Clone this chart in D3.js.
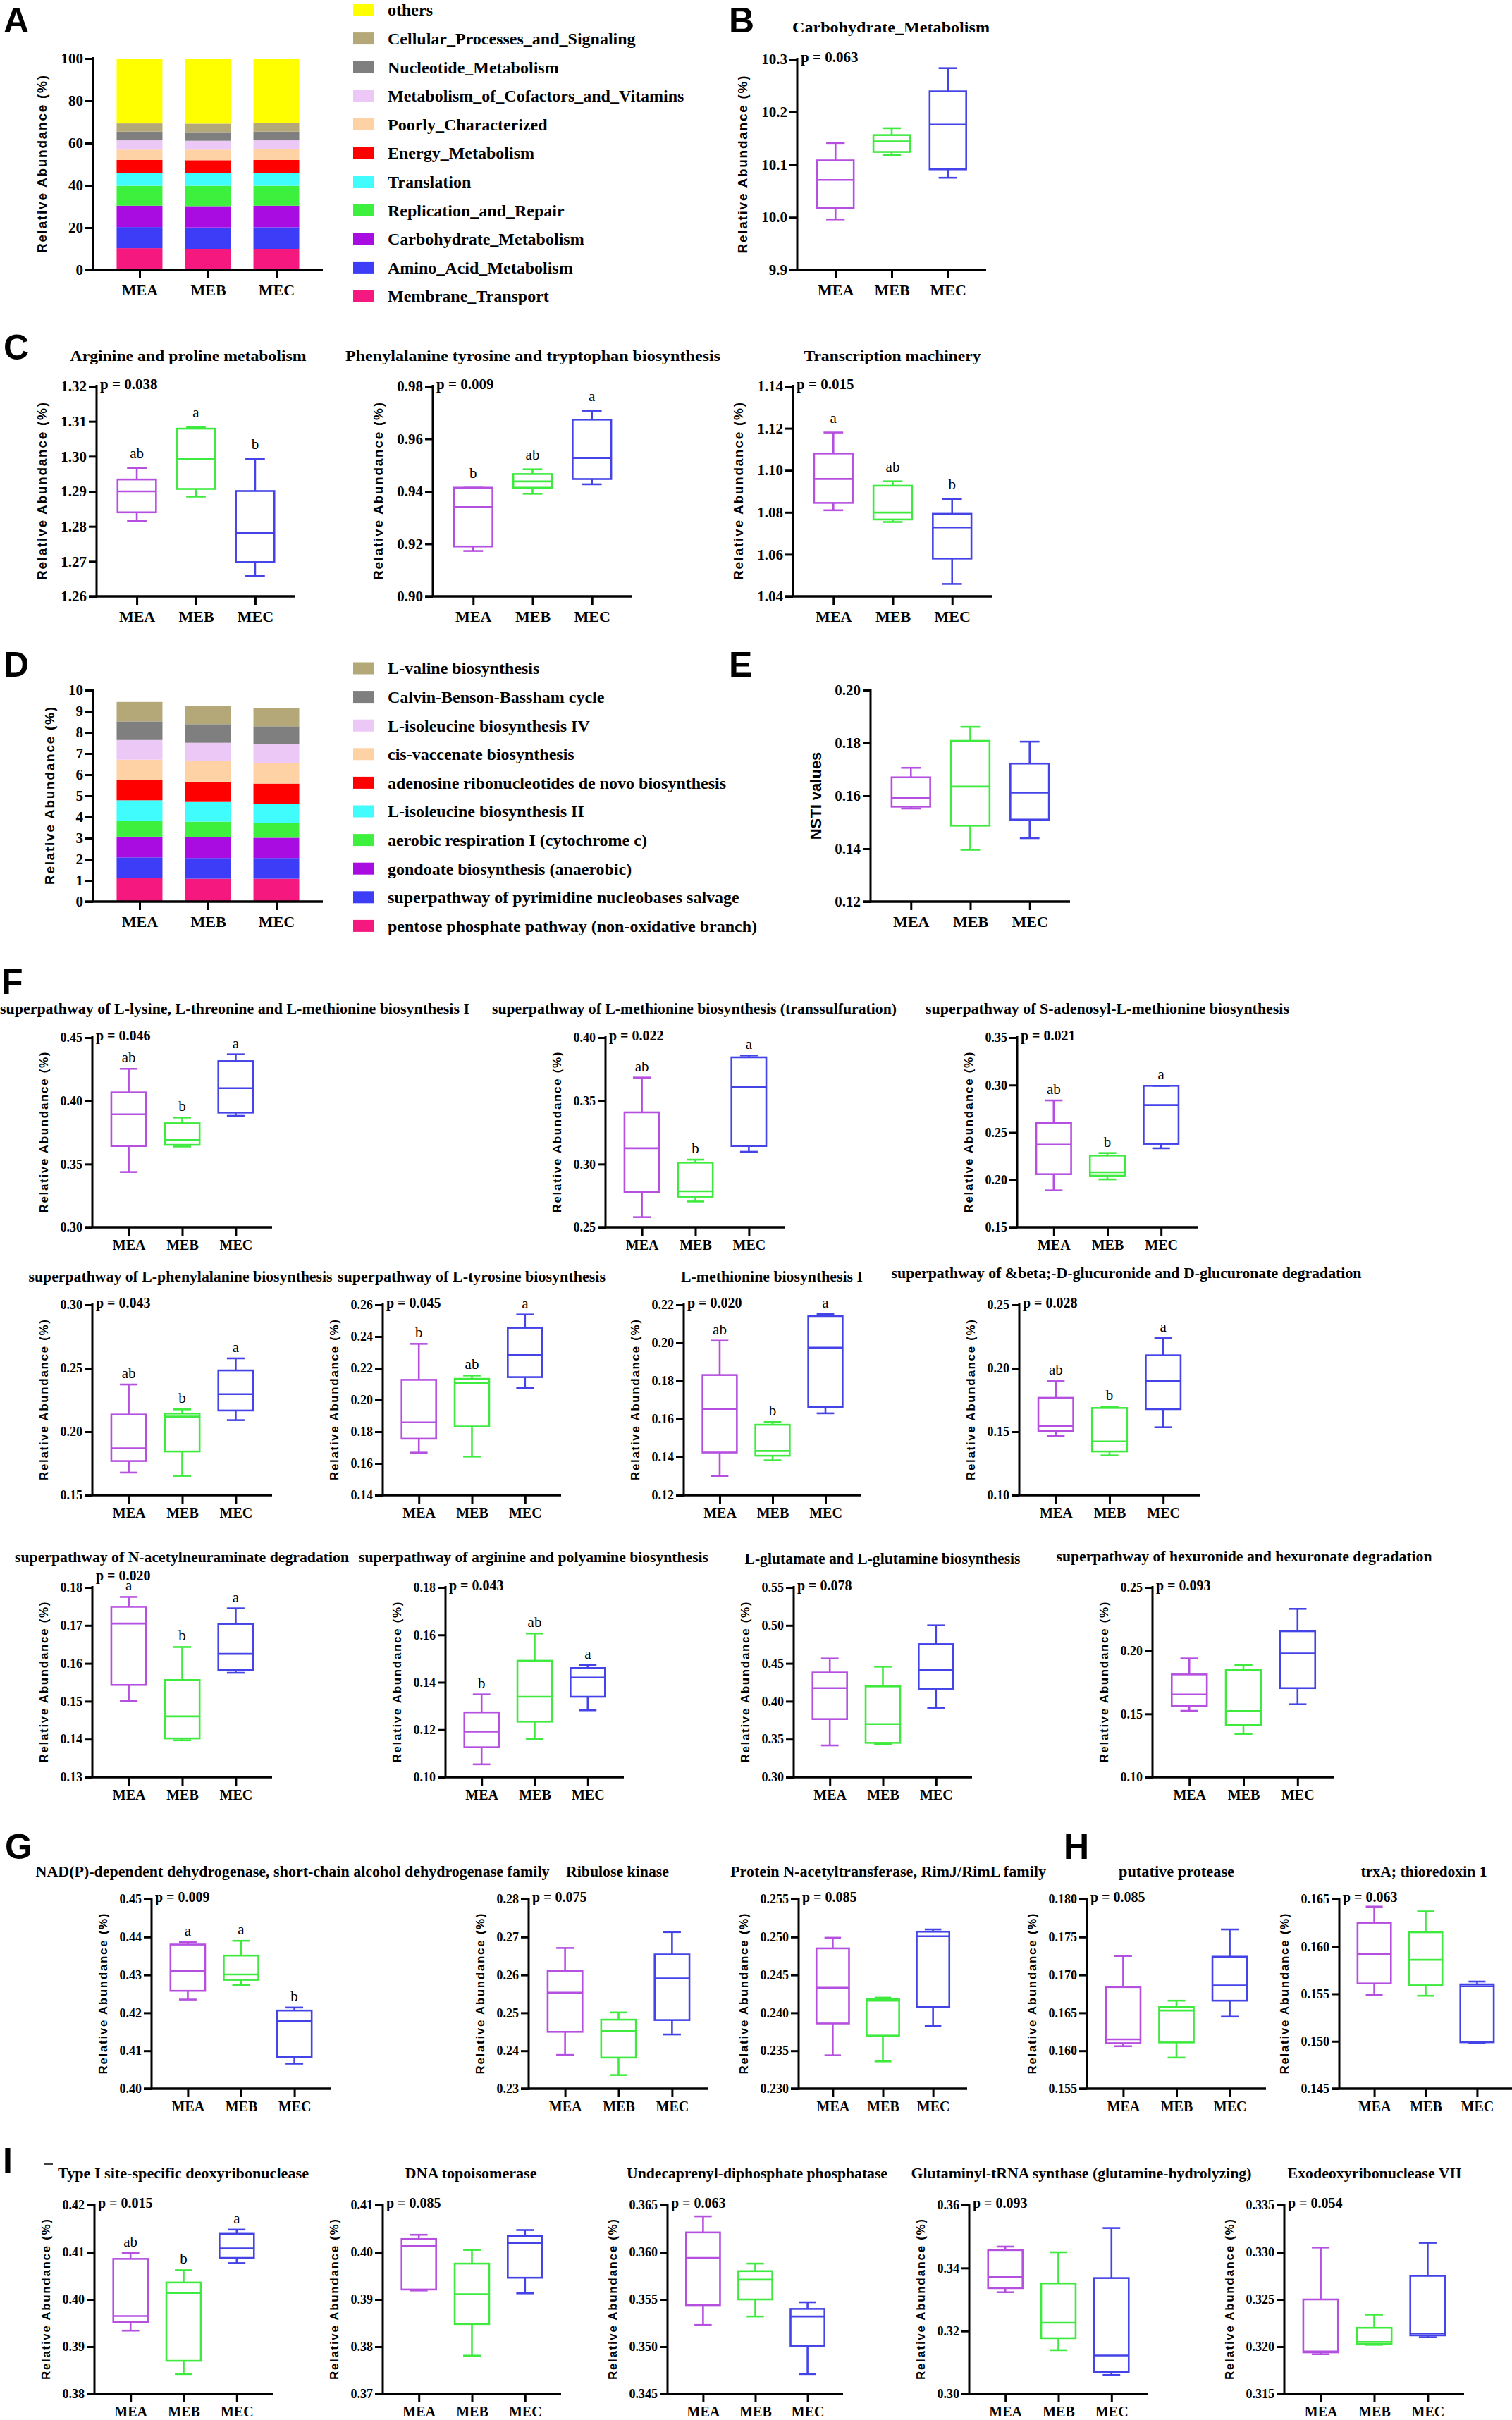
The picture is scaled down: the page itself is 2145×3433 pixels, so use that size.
<!DOCTYPE html>
<html>
<head>
<meta charset="utf-8">
<script src="https://cdn.jsdelivr.net/npm/d3@7"></script>
<style>
  body { margin: 0; background: #fff; }
  svg text { font-family: "Liberation Serif", "Times New Roman", serif; }
</style>
</head>
<body>
<svg id="fig" width="2145" height="3433"></svg>
<script>
// ---------------- data ----------------
var groups = ["MEA", "MEB", "MEC"];
var groupColors = ["#B54FE0", "#3FEA3F", "#4343E8"];

// A: KEGG level 2, listed bottom -> top of the stack
var keggNames = ["Membrane_Transport", "Amino_Acid_Metabolism", "Carbohydrate_Metabolism",
                 "Replication_and_Repair", "Translation", "Energy_Metabolism", "Poorly_Characterized",
                 "Metabolism_of_Cofactors_and_Vitamins", "Nucleotide_Metabolism",
                 "Cellular_Processes_and_Signaling", "others"];
var keggMEA = [10.3, 10.0, 10.1, 9.4, 6.1, 6.1, 4.9, 4.4, 4.1, 3.9, 30.7];
var keggMEB = [10.0, 10.1, 10.1, 9.6, 6.1, 6.0, 5.0, 4.2, 4.1, 4.0, 30.8];
var keggMEC = [10.0, 10.2, 10.2, 9.4, 6.1, 6.1, 5.0, 4.3, 4.1, 4.0, 30.6];
var stackColors = ["#F5187E", "#3D3DF8", "#A80CE0", "#3DF03D", "#40FCFC", "#FF0000",
                   "#FFD2A6", "#EBC8F5", "#7F7F7F", "#B4A878", "#FFFF00"];

// D: MetaCyc pathways, bottom -> top
var pathNames = ["pentose phosphate pathway (non-oxidative branch)",
                 "superpathway of pyrimidine nucleobases salvage",
                 "gondoate biosynthesis (anaerobic)", "aerobic respiration I (cytochrome c)",
                 "L-isoleucine biosynthesis II", "adenosine ribonucleotides de novo biosynthesis",
                 "cis-vaccenate biosynthesis", "L-isoleucine biosynthesis IV",
                 "Calvin-Benson-Bassham cycle", "L-valine biosynthesis"];
var pathMEA = [1.10, 0.99, 0.98, 0.75, 0.97, 0.96, 0.96, 0.93, 0.88, 0.92];
var pathMEB = [1.08, 0.98, 0.99, 0.73, 0.93, 0.96, 0.97, 0.87, 0.88, 0.85];
var pathMEC = [1.08, 0.98, 0.96, 0.69, 0.92, 0.95, 0.97, 0.89, 0.85, 0.87];

// box plots (B, C1-3, E, F1-11, G1-3, H1-2, I1-5)
var boxTitles = ["Carbohydrate_Metabolism", "Arginine and proline metabolism",
  "Phenylalanine tyrosine and tryptophan biosynthesis", "Transcription machinery", "",
  "superpathway of L-lysine, L-threonine and L-methionine biosynthesis I",
  "superpathway of L-methionine biosynthesis (transsulfuration)",
  "superpathway of S-adenosyl-L-methionine biosynthesis",
  "superpathway of L-phenylalanine biosynthesis", "superpathway of L-tyrosine biosynthesis",
  "L-methionine biosynthesis I",
  "superpathway of &beta;-D-glucuronide and D-glucuronate degradation",
  "superpathway of N-acetylneuraminate degradation",
  "superpathway of arginine and polyamine biosynthesis",
  "L-glutamate and L-glutamine biosynthesis",
  "superpathway of hexuronide and hexuronate degradation",
  "NAD(P)-dependent dehydrogenase, short-chain alcohol dehydrogenase family",
  "Ribulose kinase", "Protein N-acetyltransferase, RimJ/RimL family", "putative protease",
  "trxA; thioredoxin 1", "Type I site-specific deoxyribonuclease", "DNA topoisomerase",
  "Undecaprenyl-diphosphate phosphatase", "Glutaminyl-tRNA synthase (glutamine-hydrolyzing)",
  "Exodeoxyribonuclease VII"];

var boxPValues = ["p = 0.063", "p = 0.038", "p = 0.009", "p = 0.015", "",
  "p = 0.046", "p = 0.022", "p = 0.021", "p = 0.043", "p = 0.045", "p = 0.020", "p = 0.028",
  "p = 0.020", "p = 0.043", "p = 0.078", "p = 0.093",
  "p = 0.009", "p = 0.075", "p = 0.085", "p = 0.085", "p = 0.063",
  "p = 0.015", "p = 0.085", "p = 0.063", "p = 0.093", "p = 0.054"];

var boxLetters = [null, ["ab", "a", "b"], ["b", "ab", "a"], ["a", "ab", "b"], null,
  ["ab", "b", "a"], ["ab", "b", "a"], ["ab", "b", "a"], ["ab", "b", "a"], ["b", "ab", "a"],
  ["ab", "b", "a"], ["ab", "b", "a"], ["a", "b", "a"], ["b", "ab", "a"], null, null,
  ["a", "a", "b"], null, null, null, null, ["ab", "b", "a"], null, null, null, null];

// y range [low, high] and tick step
var boxYRange = [[9.9, 10.3], [1.26, 1.32], [0.90, 0.98], [1.04, 1.14], [0.12, 0.20],
  [0.30, 0.45], [0.25, 0.40], [0.15, 0.35], [0.15, 0.30], [0.14, 0.26], [0.12, 0.22], [0.10, 0.25],
  [0.13, 0.18], [0.10, 0.18], [0.30, 0.55], [0.10, 0.25],
  [0.40, 0.45], [0.23, 0.28], [0.230, 0.255], [0.155, 0.180], [0.145, 0.165],
  [0.38, 0.42], [0.37, 0.41], [0.345, 0.365], [0.30, 0.36], [0.315, 0.335]];
var boxYStep = [0.1, 0.01, 0.02, 0.02, 0.02,
  0.05, 0.05, 0.05, 0.05, 0.02, 0.02, 0.05, 0.01, 0.02, 0.05, 0.05,
  0.01, 0.01, 0.005, 0.005, 0.005, 0.01, 0.01, 0.005, 0.02, 0.005];

// five-number summaries [min, q1, median, q3, max]
var statsMEA = [[9.996, 10.018, 10.071, 10.108, 10.141], [1.2815, 1.2840, 1.2900, 1.2934, 1.2966],
  [0.9173, 0.9190, 0.9340, 0.9414, 0.9414], [1.0810, 1.0845, 1.0959, 1.1080, 1.1180],
  [0.1552, 0.1559, 0.1593, 0.1670, 0.1706], [0.3437, 0.3643, 0.3894, 0.4067, 0.4253],
  [0.2580, 0.2779, 0.3125, 0.3409, 0.3684], [0.1889, 0.2060, 0.2372, 0.2600, 0.2838],
  [0.1678, 0.1769, 0.1869, 0.2135, 0.2372], [0.1668, 0.1756, 0.1859, 0.2127, 0.2354],
  [0.1301, 0.1424, 0.1653, 0.1831, 0.2012], [0.1467, 0.1504, 0.1546, 0.1767, 0.1898],
  [0.1501, 0.1543, 0.1705, 0.1749, 0.1775], [0.1054, 0.1126, 0.1192, 0.1273, 0.1349],
  [0.3418, 0.3765, 0.4174, 0.4379, 0.4564], [0.1524, 0.1565, 0.1654, 0.1812, 0.1939],
  [0.4235, 0.4258, 0.4310, 0.4380, 0.4386], [0.2389, 0.2450, 0.2553, 0.2611, 0.2671],
  [0.2344, 0.2386, 0.2433, 0.2485, 0.2499], [0.1606, 0.1610, 0.1615, 0.1684, 0.1725],
  [0.1549, 0.1561, 0.1592, 0.1625, 0.1642], [0.3934, 0.3952, 0.3965, 0.4086, 0.4099],
  [0.3919, 0.3921, 0.4013, 0.4028, 0.4037], [0.3523, 0.3544, 0.3594, 0.3621, 0.3638],
  [0.3323, 0.3336, 0.3371, 0.3457, 0.3468], [0.3192, 0.3194, 0.3195, 0.3250, 0.3305]];
var statsMEB = [[10.118, 10.124, 10.144, 10.156, 10.169], [1.2885, 1.2907, 1.2992, 1.3079, 1.3083],
  [0.9391, 0.9414, 0.9438, 0.9466, 0.9484], [1.0754, 1.0766, 1.0799, 1.0927, 1.0948],
  [0.1396, 0.1487, 0.1635, 0.1808, 0.1861], [0.3639, 0.3652, 0.3690, 0.3823, 0.3868],
  [0.2704, 0.2742, 0.2784, 0.3011, 0.3035], [0.2005, 0.2043, 0.2080, 0.2256, 0.2283],
  [0.1652, 0.1844, 0.2119, 0.2143, 0.2176], [0.1643, 0.1833, 0.2107, 0.2133, 0.2154],
  [0.1383, 0.1407, 0.1432, 0.1570, 0.1584], [0.1313, 0.1344, 0.1424, 0.1687, 0.1698],
  [0.1397, 0.1402, 0.1460, 0.1556, 0.1643], [0.1161, 0.1234, 0.1339, 0.1491, 0.1606],
  [0.3434, 0.3452, 0.3700, 0.4196, 0.4456], [0.1342, 0.1414, 0.1522, 0.1846, 0.1885],
  [0.4273, 0.4287, 0.4301, 0.4351, 0.4390], [0.2336, 0.2382, 0.2452, 0.2482, 0.2501],
  [0.2336, 0.2370, 0.2416, 0.2418, 0.2420], [0.1591, 0.1611, 0.1653, 0.1658, 0.1666],
  [0.1548, 0.1559, 0.1586, 0.1615, 0.1637], [0.3842, 0.3870, 0.4014, 0.4036, 0.4062],
  [0.3781, 0.3848, 0.3911, 0.3976, 0.4005], [0.3532, 0.3550, 0.3571, 0.3580, 0.3588],
  [0.3139, 0.3177, 0.3226, 0.3351, 0.3450], [0.3202, 0.3203, 0.3205, 0.3220, 0.3234]];
var statsMEC = [[10.075, 10.091, 10.176, 10.239, 10.283], [1.2658, 1.2698, 1.2781, 1.2901, 1.2992],
  [0.9427, 0.9447, 0.9527, 0.9673, 0.9707], [1.0459, 1.0580, 1.0728, 1.0793, 1.0863],
  [0.1440, 0.1510, 0.1612, 0.1722, 0.1805], [0.3881, 0.3907, 0.4100, 0.4314, 0.4368],
  [0.3097, 0.3143, 0.3611, 0.3844, 0.3859], [0.2333, 0.2380, 0.2789, 0.2992, 0.2992],
  [0.2091, 0.2167, 0.2296, 0.2483, 0.2578], [0.2077, 0.2144, 0.2283, 0.2455, 0.2539],
  [0.1630, 0.1662, 0.1975, 0.2141, 0.2151], [0.1535, 0.1678, 0.1902, 0.2102, 0.2237],
  [0.1575, 0.1583, 0.1625, 0.1704, 0.1745], [0.1282, 0.1339, 0.1420, 0.1460, 0.1472],
  [0.3914, 0.4165, 0.4416, 0.4753, 0.5001], [0.1576, 0.1704, 0.1978, 0.2154, 0.2331],
  [0.4066, 0.4084, 0.4179, 0.4206, 0.4214], [0.2443, 0.2481, 0.2591, 0.2654, 0.2713],
  [0.2383, 0.2408, 0.2501, 0.2507, 0.2510], [0.1645, 0.1666, 0.1686, 0.1724, 0.1760],
  [0.1498, 0.1499, 0.1558, 0.1560, 0.1563], [0.4077, 0.4088, 0.4108, 0.4139, 0.4148],
  [0.3913, 0.3946, 0.4019, 0.4034, 0.4047], [0.3471, 0.3501, 0.3532, 0.3540, 0.3547],
  [0.3060, 0.3069, 0.3122, 0.3368, 0.3527], [0.3210, 0.3212, 0.3214, 0.3275, 0.3310]];

// ---------------- layout ----------------
// [axisX, axisEnd, top, bottom, titleCenter, titleBaseline, titleWidth, big?, pShift]
var frames = [
  [1131, 1399, 84, 383, 1264, 46, 280, 1, 4],
  [137, 419, 548, 846, 267, 512, 335, 1, 4],
  [614, 897, 548, 846, 756, 512, 532, 1, 4],
  [1125, 1408, 548, 846, 1266, 512, 251, 1, 4],
  [1235, 1518, 979, 1279, 0, 0, 0, 1, 4],
  [131, 386, 1472, 1741, 333, 1438, 666, 0, 4],
  [859, 1114, 1472, 1741, 985, 1438, 574, 0, 4],
  [1443, 1699, 1472, 1741, 1571, 1438, 516, 0, 4],
  [131, 386, 1851, 2121, 256, 1818, 431, 0, 4],
  [543, 796, 1851, 2121, 669, 1818, 380, 0, 4],
  [970, 1222, 1851, 2121, 1095, 1818, 258, 0, 4],
  [1446, 1702, 1851, 2121, 1598, 1813, 667, 0, 4],
  [131, 386, 2252, 2521, 258, 2216, 474, 0, -10],
  [632, 885, 2252, 2521, 757, 2216, 496, 0, 4],
  [1126, 1379, 2252, 2521, 1252, 2218, 391, 0, 4],
  [1635, 1893, 2252, 2521, 1765, 2215, 533, 0, 4],
  [215, 469, 2694, 2963, 415, 2662, 729, 0, 4],
  [750, 1005, 2694, 2963, 876, 2662, 146, 0, 4],
  [1133, 1372, 2694, 2963, 1260, 2662, 448, 0, 4],
  [1542, 1796, 2694, 2963, 1669, 2662, 164, 0, 4],
  [1900, 2145, 2694, 2963, 2020, 2662, 179, 0, 4],
  [134, 387, 3128, 3396, 260, 3090, 356, 0, 4],
  [543, 796, 3128, 3396, 668, 3090, 187, 0, 4],
  [947, 1196, 3128, 3396, 1074, 3090, 370, 0, 4],
  [1375, 1628, 3128, 3396, 1534, 3090, 483, 0, 4],
  [1822, 2077, 3128, 3396, 1950, 3090, 247, 0, 4]
];
var panelLabels = [["A", 5, 46], ["B", 1034, 46], ["C", 5, 510], ["D", 5, 960], ["E", 1034, 960],
                   ["F", 2, 1410], ["G", 7, 2637], ["H", 1509, 2637], ["I", 4, 3082]];

var svg = d3.select("#fig");
var BIG = {tick: 21, xlab: 22, p: 21, title: 22, ytitle: 19, ylen: 252, gap: 27, xlabY: 36},
    SMALL = {tick: 18, xlab: 20, p: 20, title: 20, ytitle: 17, ylen: 228, gap: 23, xlabY: 32};

function styleAxis(g) {
  g.selectAll("line").attr("stroke", "#000").attr("stroke-width", 3);
  g.select(".domain").remove();
}

function drawAxes(x, y, x0, x1, top, bot, ticks, fmt, sz) {
  var ya = svg.append("g").attr("transform", "translate(" + x0 + ",0)")
    .call(d3.axisLeft(y).tickValues(ticks).tickFormat(fmt).tickSize(11).tickPadding(3).tickSizeOuter(0));
  styleAxis(ya);
  ya.selectAll("text").style("font-size", sz.tick + "px").style("font-weight", "bold").attr("fill", "#000");
  ya.append("line").attr("x1", 0).attr("x2", 0).attr("y1", top - 2).attr("y2", bot)
    .attr("stroke", "#000").attr("stroke-width", 3);

  var xa = svg.append("g").attr("transform", "translate(0," + bot + ")")
    .call(d3.axisBottom(x).tickSize(12).tickSizeOuter(0));
  styleAxis(xa);
  xa.selectAll("text").attr("y", sz.xlabY).attr("dy", null)
    .style("font-size", sz.xlab + "px").style("font-weight", "bold").attr("fill", "#000");
  xa.append("line").attr("x1", x0 - 11).attr("x2", x1).attr("y1", 0).attr("y2", 0)
    .attr("stroke", "#000").attr("stroke-width", 3.5);

  // left edge of tick labels, used to place the rotated title
  var minX = 0;
  ya.selectAll("text").each(function () { minX = Math.min(minX, this.getBBox().x); });
  return x0 + minX;
}

function yTitle(text, cx, cy, size, len) {
  var t = svg.append("text")
    .attr("transform", "translate(" + cx + "," + cy + ") rotate(-90)")
    .attr("text-anchor", "middle").attr("dy", "0.35em")
    .style("font-family", "'Liberation Sans', Arial, sans-serif").style("font-weight", "bold")
    .style("font-size", size + "px").text(text);
  if (len) t.attr("textLength", len).attr("lengthAdjust", "spacing");
}

function tickList(lo, hi, step) {
  var n = Math.round((hi - lo) / step);
  return d3.range(n + 1).map(function (i) { return +(lo + i * step).toFixed(4); });
}

// ---------------- stacked bars (A, D) ----------------
function stackedPanel(names, byGroup, yMax, yStep, fmt, x0, x1, top, bot, legendTop) {
  var rows = groups.map(function (g, i) {
    var r = {group: g};
    names.forEach(function (n, k) { r[n] = byGroup[i][k]; });
    return r;
  });
  var series = d3.stack().keys(names)(rows);
  var x = d3.scalePoint().domain(groups).range([x0, x1]).padding(0.68);
  var y = d3.scaleLinear().domain([0, yMax]).range([bot, top]);
  var bw = x.step() * 0.67;

  svg.append("g").selectAll("g").data(series).join("g")
    .attr("fill", function (d, k) { return stackColors[k]; })
    .selectAll("rect").data(function (d) { return d; }).join("rect")
    .attr("x", function (d) { return x(d.data.group) - bw / 2; })
    .attr("width", bw)
    .attr("y", function (d) { return y(d[1]); })
    .attr("height", function (d) { return y(d[0]) - y(d[1]); });

  var left = drawAxes(x, y, x0, x1, top, bot, tickList(0, yMax, yStep), fmt, BIG);
  yTitle("Relative Abundance (%)", left - BIG.gap, (top + bot) / 2, BIG.ytitle, BIG.ylen);

  var lg = svg.append("g").selectAll("g").data(names.slice().reverse()).join("g")
    .attr("transform", function (d, r) { return "translate(501," + (legendTop + r * 40.6) + ")"; });
  lg.append("rect").attr("x", 0).attr("y", -8.5).attr("width", 30).attr("height", 17)
    .attr("fill", function (d) { return stackColors[names.indexOf(d)]; });
  lg.append("text").attr("x", 49).attr("dy", "0.35em")
    .style("font-size", "24px").style("font-weight", "bold").text(function (d) { return d; });
}

stackedPanel(keggNames, [keggMEA, keggMEB, keggMEC], 100, 20, d3.format("d"), 132, 458, 83, 383, 14);
stackedPanel(pathNames, [pathMEA, pathMEB, pathMEC], 10, 1, d3.format("d"), 132, 458, 979, 1279, 948);

// ---------------- box plots ----------------
boxTitles.forEach(function (title, k) {
  var f = frames[k], x0 = f[0], x1 = f[1], top = f[2], bot = f[3];
  var sz = f[7] ? BIG : SMALL;
  var lo = boxYRange[k][0], hi = boxYRange[k][1], step = boxYStep[k];
  var x = d3.scalePoint().domain(groups).range([x0, x1]).padding(0.68);
  var y = d3.scaleLinear().domain([lo, hi]).range([bot, top]);
  var fmt = d3.format(step < 0.01 ? ".3f" : (step < 0.1 ? ".2f" : ".1f"));

  var left = drawAxes(x, y, x0, x1, top, bot, tickList(lo, hi, step), fmt, sz);
  yTitle(k === 4 ? "NSTI values" : "Relative Abundance (%)", left - sz.gap, (top + bot) / 2,
         k === 4 ? 22 : sz.ytitle, k === 4 ? 0 : sz.ylen);

  if (title) {
    svg.append("text").attr("x", f[4]).attr("y", f[5]).attr("text-anchor", "middle")
      .attr("textLength", f[6]).attr("lengthAdjust", "spacingAndGlyphs")
      .style("font-size", sz.title + "px").style("font-weight", "bold").text(title);
  }
  if (boxPValues[k]) {
    svg.append("text").attr("x", x0 + 5).attr("y", top + f[8])
      .style("font-size", sz.p + "px").style("font-weight", "bold").text(boxPValues[k]);
  }

  var boxW = x.step() * 0.65, capW = x.step() * 0.33;
  var sets = [statsMEA[k], statsMEB[k], statsMEC[k]];
  var bg = svg.append("g").selectAll("g").data(groups).join("g")
    .attr("stroke", function (d, i) { return groupColors[i]; })
    .attr("stroke-width", 2.6).attr("fill", "none");
  bg.each(function (g, i) {
    var s = sets[i], cx = x(g), node = d3.select(this);
    node.append("line").attr("x1", cx).attr("x2", cx).attr("y1", y(s[4])).attr("y2", y(s[3]));
    node.append("line").attr("x1", cx).attr("x2", cx).attr("y1", y(s[1])).attr("y2", y(s[0]));
    node.append("line").attr("x1", cx - capW / 2).attr("x2", cx + capW / 2).attr("y1", y(s[4])).attr("y2", y(s[4]));
    node.append("line").attr("x1", cx - capW / 2).attr("x2", cx + capW / 2).attr("y1", y(s[0])).attr("y2", y(s[0]));
    node.append("rect").attr("x", cx - boxW / 2).attr("width", boxW)
      .attr("y", y(s[3])).attr("height", y(s[1]) - y(s[3]));
    node.append("line").attr("x1", cx - boxW / 2).attr("x2", cx + boxW / 2).attr("y1", y(s[2])).attr("y2", y(s[2]));
  });

  if (boxLetters[k]) {
    var ld = f[7] ? 14 : 9;
    svg.append("g").selectAll("text").data(groups).join("text")
      .attr("x", function (g) { return x(g); })
      .attr("y", function (g, i) { return y(sets[i][4]) - ld; })
      .attr("text-anchor", "middle").style("font-size", "21px")
      .text(function (g, i) { return boxLetters[k][i]; });
  }
});

// panel letters
svg.append("g").selectAll("text").data(panelLabels).join("text")
  .attr("x", function (d) { return d[1]; }).attr("y", function (d) { return d[2]; })
  .style("font-family", "'Liberation Sans', Arial, sans-serif").style("font-weight", "bold")
  .style("font-size", "50px").text(function (d) { return d[0]; });

// small stray dash beside panel I, as in the source figure
svg.append("line").attr("x1", 63).attr("x2", 75).attr("y1", 3070).attr("y2", 3070)
  .attr("stroke", "#000").attr("stroke-width", 1.5);
</script>
</body>
</html>
